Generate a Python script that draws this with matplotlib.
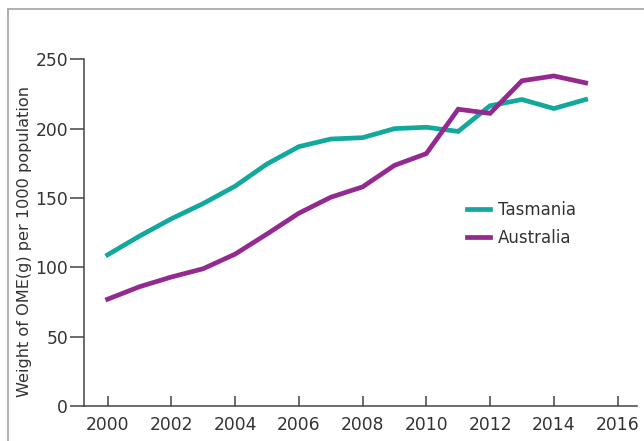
import matplotlib
matplotlib.use("Agg")
import matplotlib.pyplot as plt
from matplotlib.lines import Line2D

years = list(range(2000, 2016))
tasmania = [109, 122.5, 135, 146, 158.5, 174.5, 187, 192.5, 193.5, 200, 201, 198, 216.5, 221, 214.5, 221]
australia = [77, 86, 93, 99, 109.5, 124, 139, 150.5, 158, 173.5, 182, 214, 211, 234.5, 238, 233]
xticks = [2000, 2002, 2004, 2006, 2008, 2010, 2012, 2014, 2016]
yticks = [0, 50, 100, 150, 200, 250]
series_names = ["Tasmania", "Australia"]
colors = ["#13a89e", "#942a8f"]

plt.rcParams['font.family'] = ['DejaVu Sans']
text_color = "#333333"

fig = plt.figure(figsize=(6.44, 4.41), dpi=100)
# outer frame
fig.add_artist(Line2D([8/644, 8/644], [0, 1 - 8.5/441], transform=fig.transFigure, color="#aaaaaa", lw=1.3))
fig.add_artist(Line2D([8/644, 1], [1 - 8.5/441, 1 - 8.5/441], transform=fig.transFigure, color="#aaaaaa", lw=1.3))

ax = fig.add_axes([84/644, 35/441, 553/644, (406 - 59.3)/441])
ax.plot(years, tasmania, color=colors[0], lw=3.4, solid_joinstyle='miter', label=series_names[0])
ax.plot(years, australia, color=colors[1], lw=3.4, solid_joinstyle='miter', label=series_names[1])

ax.set_xlim(1999.26, 2016.61)
ax.set_ylim(0, 250)
ax.set_xticks(xticks)
ax.set_yticks(yticks)
ax.spines['top'].set_visible(False)
ax.spines['right'].set_visible(False)
for s in ['left', 'bottom']:
    ax.spines[s].set_color("#444444")
    ax.spines[s].set_linewidth(1.1)
ax.tick_params(axis='x', direction='in', length=7, width=1.1, color="#444444", pad=7,
               labelsize=12.3, labelcolor=text_color)
ax.tick_params(axis='y', direction='out', length=10, width=1.1, color="#444444", pad=1.5,
               labelsize=12.3, labelcolor=text_color)
ax.set_ylabel("Weight of OME(g) per 1000 population", fontsize=11.6, color=text_color)
ax.yaxis.set_label_coords(-52/553, 0.474)

leg = ax.legend(loc='upper left', bbox_to_anchor=(376/553, 1 - (194.5 - 59.3)/346.7), frameon=False,
                fontsize=12, handlelength=1.4, handletextpad=0.45, labelspacing=0.58, borderaxespad=0)
for t in leg.get_texts():
    t.set_color(text_color)

fig.savefig("out.png", dpi=100)
